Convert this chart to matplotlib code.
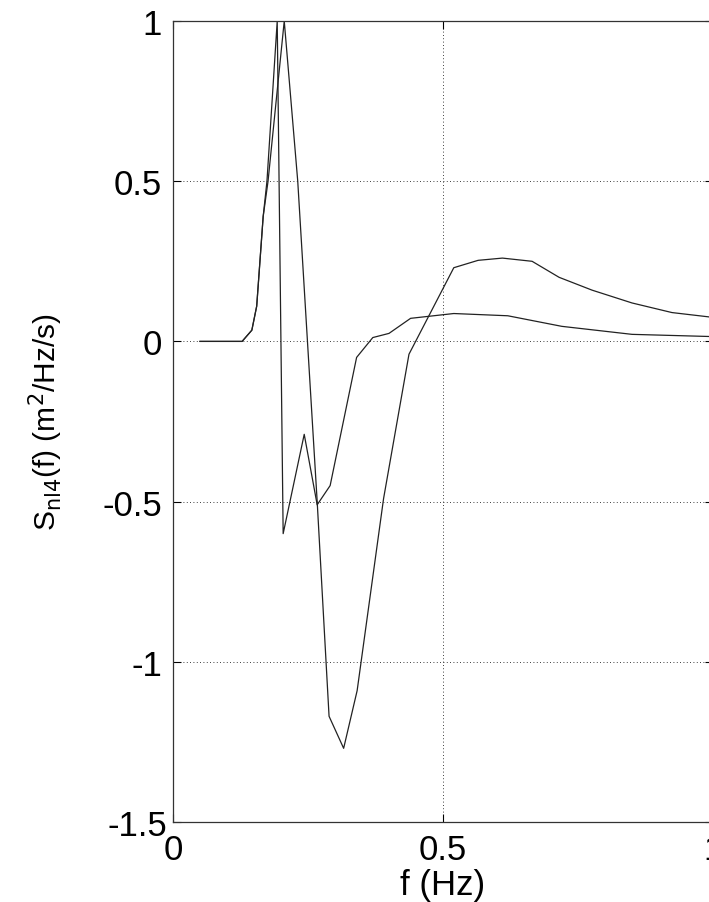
import matplotlib
matplotlib.use("Agg")
import matplotlib.pyplot as plt
from matplotlib.transforms import ScaledTranslation

# curve 1: sharp peak then quick dip back near zero
f1 = [0.05, 0.128, 0.146, 0.155, 0.167, 0.174, 0.193, 0.204, 0.243, 0.267,
      0.291, 0.34, 0.37, 0.40, 0.44, 0.52, 0.62, 0.72, 0.85, 1.0]
s1 = [0.0, 0.0, 0.035, 0.11, 0.39, 0.5, 1.0, -0.60, -0.29, -0.51,
      -0.45, -0.05, 0.012, 0.025, 0.072, 0.087, 0.08, 0.047, 0.022, 0.015]

# curve 2: peak slightly later, deep negative lobe, broad positive tail
f2 = [0.05, 0.128, 0.146, 0.155, 0.167, 0.176, 0.206, 0.231, 0.267, 0.289,
      0.316, 0.341, 0.39, 0.437, 0.52, 0.565, 0.61, 0.665, 0.715, 0.776,
      0.85, 0.924, 1.0]
s2 = [0.0, 0.0, 0.035, 0.11, 0.39, 0.5, 1.0, 0.5, -0.5, -1.17,
      -1.27, -1.09, -0.49, -0.04, 0.23, 0.253, 0.26, 0.25, 0.20, 0.16,
      0.12, 0.09, 0.075]

yticks = [-1.5, -1, -0.5, 0, 0.5, 1]
ytick_labels = ["-1.5", "-1", "-0.5", "0", "0.5", "1"]
xticks = [0, 0.5, 1]
xtick_labels = ["0", "0.5", "1"]

plt.rcParams['font.family'] = ['Liberation Sans', 'DejaVu Sans']

fig = plt.figure(figsize=(7.09, 9.03), dpi=100)
ax = fig.add_axes([173 / 709, 80 / 903, 540 / 709, 801 / 903])

ax.plot(f1, s1, color='#222222', linewidth=0.9)
ax.plot(f2, s2, color='#222222', linewidth=0.9)

ax.set_xlim(0, 1)
ax.set_ylim(-1.5, 1)
ax.set_xticks(xticks)
ax.set_xticklabels(xtick_labels)
ax.set_yticks(yticks)
ax.set_yticklabels(ytick_labels)
ax.grid(True, color='black', linestyle=(0, (1, 3)), linewidth=0.6)
ax.tick_params(direction='in', length=6, width=0.8, top=True, right=True,
               labelsize=25, colors='black')
ax.tick_params(axis='y', pad=8)
ax.tick_params(axis='x', pad=8)
for sp in ax.spines.values():
    sp.set_linewidth(0.9)
    sp.set_color('#333333')

# matlab puts the bottom y label a little closer to the corner
lab = ax.get_yticklabels()[0]
lab.set_transform(lab.get_transform() + ScaledTranslation(5 / 100, 0, fig.dpi_scale_trans))

ax.set_xlabel('f (Hz)', fontsize=25, labelpad=1.5)
ax.set_ylabel(r'S$_{\mathrm{nl4}}$(f) (m$^2$/Hz/s)', fontsize=21.5, labelpad=27)

fig.savefig('out.png', dpi=100)
